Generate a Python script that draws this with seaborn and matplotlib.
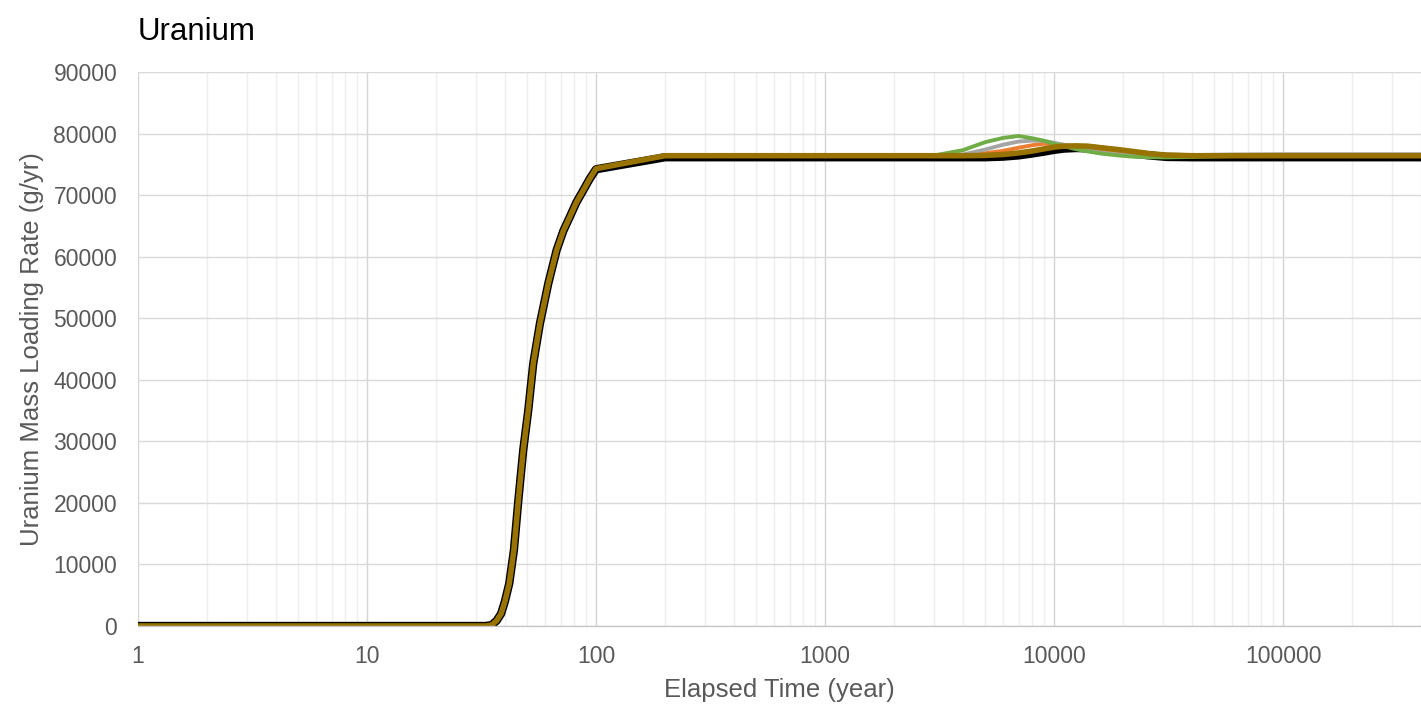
import seaborn as sns
import matplotlib.pyplot as plt
import matplotlib.ticker as mticker
import pandas as pd

# elapsed time (years) and mass loading rates (g/yr)
rise_time = [1, 20, 33, 35, 36.8, 38.5, 40, 41.8, 43.8, 45.8, 48.1, 50.6, 53.2, 56.9,
             61.9, 67.3, 72, 76.9, 82, 88.1, 94, 100, 200]
rise_vals = [0, 0, 0, 150, 870, 2000, 4000, 6930, 12350, 20470, 28600, 35090, 42670, 49170,
             55670, 61080, 64200, 66500, 68800, 70830, 72700, 74300, 76400]
black_rise = [0, 0, 0, 150, 870, 2000, 4000, 6930, 12350, 20470, 28600, 35090, 42670, 49170,
              55670, 61080, 64200, 66500, 68800, 70830, 72700, 74200, 76150]

tail_time = [500, 1000, 2000, 3000, 4000, 5000, 6000, 7000, 8000, 9000, 10000, 11000,
             12500, 14000, 16000, 19000, 22000, 26000, 31000, 40000, 60000, 100000,
             200000, 400000]
black_tail = [76150, 76150, 76150, 76150, 76150, 76150, 76250, 76450, 76750, 77050, 77350, 77550,
              77650, 77600, 77400, 77050, 76750, 76450, 76200, 76150, 76150, 76150,
              76150, 76150]
orange_tail = [76450, 76450, 76450, 76450, 76450, 76800, 77200, 77700, 78100, 78350, 78300, 78150,
               77900, 77600, 77200, 76800, 76550, 76450, 76450, 76450, 76450, 76450,
               76450, 76450]
gray_tail = [76500, 76500, 76500, 76500, 76600, 77400, 78200, 78700, 78850, 78800, 78500, 78200,
             77700, 77300, 76900, 76600, 76400, 76350, 76400, 76500, 76600, 76650,
             76650, 76650]
green_tail = [76400, 76400, 76400, 76450, 77300, 78600, 79300, 79600, 79250, 78850, 78350, 77950,
              77450, 77100, 76750, 76450, 76250, 76150, 76130, 76200, 76350, 76400,
              76400, 76400]
gold_tail = [76400, 76400, 76400, 76400, 76400, 76450, 76600, 76850, 77150, 77500, 77800, 77950,
             78000, 77950, 77700, 77400, 77100, 76750, 76500, 76400, 76400, 76400,
             76400, 76400]

time = rise_time + tail_time
series = [
    ("black", black_rise + black_tail, "#000000", 6.0),
    ("orange", rise_vals + orange_tail, "#ED7D31", 2.8),
    ("gray", rise_vals + gray_tail, "#A5A5A5", 2.8),
    ("green", rise_vals + green_tail, "#70AD47", 2.8),
    ("gold", rise_vals + gold_tail, "#997300", 4.0),
]

sns.set_theme(style="white")
plt.rcParams['font.family'] = ['Liberation Sans', 'DejaVu Sans']

fig = plt.figure(figsize=(14.21, 7.07), dpi=100)
ax = fig.add_axes([138 / 1421, 1 - 626 / 707, 1 - 138 / 1421, (626 - 72) / 707])

for name, vals, color, lw in series:
    df = pd.DataFrame({"t": time, "v": vals})
    sns.lineplot(data=df, x="t", y="v", color=color, linewidth=lw, ax=ax,
                 sort=False, estimator=None, solid_joinstyle="round",
                 solid_capstyle="butt")

ax.set_xscale("log")
ax.set_xlim(1, 400000)
ax.set_ylim(0, 90000)
ax.set_yticks(range(0, 90001, 10000))
ax.xaxis.set_major_locator(mticker.LogLocator(base=10, numticks=10))
ax.xaxis.set_major_formatter(mticker.FuncFormatter(lambda v, p: f"{v:.0f}"))
ax.xaxis.set_minor_locator(mticker.LogLocator(base=10, subs=range(2, 10), numticks=20))
ax.xaxis.set_minor_formatter(mticker.NullFormatter())

ax.grid(True, which="major", axis="y", color="#D9D9D9", linewidth=1.0)
ax.grid(True, which="major", axis="x", color="#D4D4D4", linewidth=1.0)
ax.grid(True, which="minor", axis="x", color="#EEEEEE", linewidth=1.0)
ax.set_axisbelow(True)

for s in ["top", "right", "left"]:
    ax.spines[s].set_visible(False)
ax.spines["bottom"].set_color("#C8C8C8")
ax.spines["bottom"].set_linewidth(1.0)

ax.tick_params(axis="both", which="both", length=0, labelsize=16.5, labelcolor="#595959")
ax.tick_params(axis="y", pad=15)
ax.tick_params(axis="x", pad=14)

ax.set_xlabel("Elapsed Time (year)", fontsize=18.5, color="#595959")
ax.set_ylabel("Uranium Mass Loading Rate (g/yr)", fontsize=18.5, color="#595959")
ax.xaxis.set_label_coords(0.5, -0.093)
ax.yaxis.set_label_coords(-0.073, 0.5)

fig.text(138 / 1421, 1 - 40 / 707, "Uranium", fontsize=22.5, color="#000000",
         ha="left", va="baseline")

fig.savefig("out.png", dpi=100)
